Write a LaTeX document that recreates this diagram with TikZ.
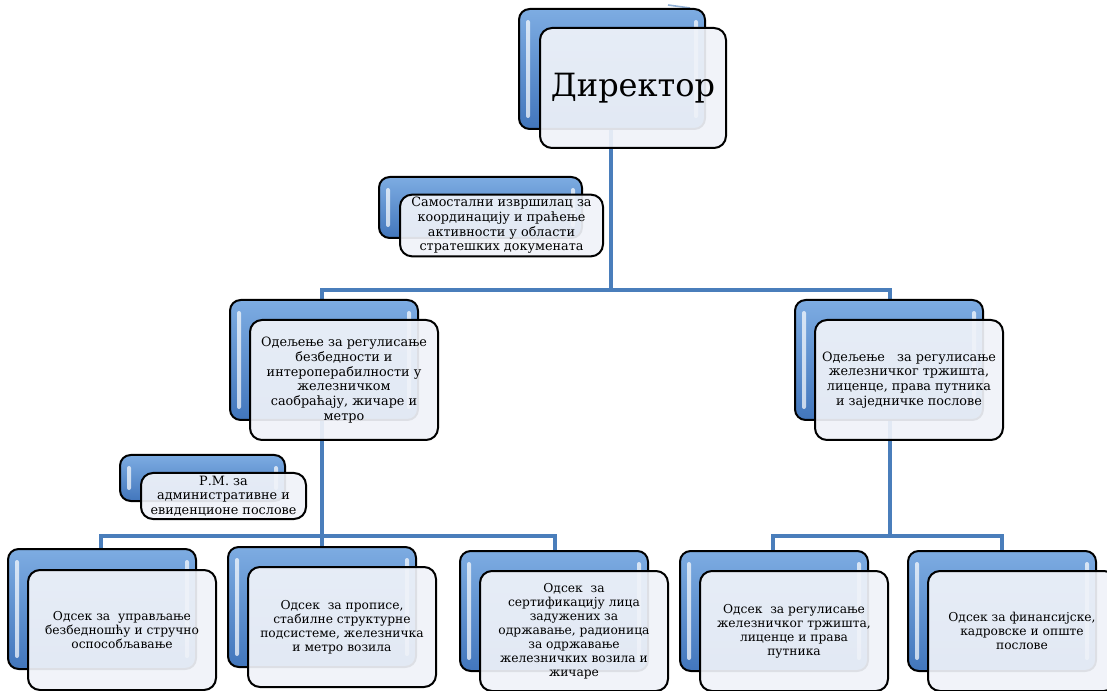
\documentclass[tikz,border=0pt]{standalone}
\usepackage{fontspec}
\setmainfont{DejaVu Serif}
\usetikzlibrary{calc,backgrounds}
\definecolor{connblue}{RGB}{74,126,187}
\definecolor{boxtop}{RGB}{125,172,226}
\definecolor{boxmid}{RGB}{88,145,212}
\definecolor{boxbot}{RGB}{66,118,188}
\definecolor{frontfill}{RGB}{240,243,249}
\tikzset{
  conn/.style={draw=connblue, line width=2.6pt},
  backbox/.style={rectangle, rounded corners=8pt, draw=black, line width=1.5pt,
    top color=boxtop, middle color=boxmid, bottom color=boxbot, inner sep=0pt},
  frontbox/.style={rectangle, rounded corners=9pt, draw=black, line width=1.5pt,
    fill=frontfill, fill opacity=0.92, text opacity=1, inner sep=2pt, align=center},
  gloss/.style={fill=white, fill opacity=0.7, draw=none, rounded corners=1.5pt},
  bigtxt/.style={font=\fontsize{24}{28}\selectfont},
  midtxt/.style={font=\fontsize{9.6}{11}\selectfont},
  bottxt/.style={font=\fontsize{9.2}{10.5}\selectfont},
}
\newcommand\orgbox[9]{%
  \node[backbox, minimum width=#4*0.75pt, minimum height=#5*0.75pt] (#1B) at ($(#2,#3)+(#6,#7)$) {};
  \fill[gloss] ($(#1B.north west)+(8,12)$) rectangle ($(#1B.south west)+(12,-12)$);
  \fill[gloss] ($(#1B.north east)+(-12,12)$) rectangle ($(#1B.south east)+(-8,-12)$);
  \node[frontbox, #8, minimum width=#4*0.75pt, minimum height=#5*0.75pt] (#1) at (#2,#3) {#9};
}
\begin{document}
\begin{tikzpicture}[x=0.75pt,y=-0.75pt]
\useasboundingbox (0,0) rectangle (1107,691);
\clip (0,0) rectangle (1107,691);
\coordinate (j0) at (611,290);
\coordinate (jL) at (322,290);
\coordinate (jR) at (890,290);
\coordinate (kL) at (322,536);
\coordinate (kL1) at (101,536);
\coordinate (kL3) at (555,536);
\coordinate (kR) at (890,536);
\coordinate (kR1) at (773,536);
\coordinate (kR2) at (1002,536);
\coordinate (artA) at (668,5);
\coordinate (artB) at (690,8);
% boxes
\orgbox{dir}{633}{88}{186}{120}{-21}{-19}{bigtxt}{Директор}
\orgbox{sam}{501.5}{225.5}{203}{61}{-21}{-18}{midtxt}{Самостални извршилац за\\координацију и праћење\\активности у области\\стратешких докумената}
\orgbox{deptL}{344}{380}{188}{120}{-20}{-20}{midtxt}{Одељење за регулисање\\безбедности и\\интероперабилности у\\железничком\\саобраћају, жичаре и\\метро}
\orgbox{deptR}{909}{380}{188}{120}{-20}{-20}{midtxt}{Одељење\ \ \ за регулисање\\железничког тржишта,\\лиценце, права путника\\и заједничке послове}
\orgbox{pm}{223.5}{496}{165}{46}{-21}{-18}{midtxt}{Р.М. за\\административне и\\евиденционе послове}
\orgbox{b1}{122}{630}{188}{120}{-20}{-21}{bottxt}{Одсек за\ \ управљање\\безбедношћу и стручно\\оспособљавање}
\orgbox{b2}{342}{627}{188}{120}{-20}{-20}{bottxt}{Одсек\ \ за прописе,\\стабилне структурне\\подсистеме, железничка\\и метро возила}
\orgbox{b3}{574}{631}{188}{120}{-20}{-20}{bottxt}{Одсек\ \ за\\сертификацију лица\\задужених за\\одржавање, радионица\\за одржавање\\железничких возила и\\жичаре}
\orgbox{b4}{794}{631}{188}{120}{-20}{-20}{bottxt}{Одсек\ \ за регулисање\\железничког тржишта,\\лиценце и права\\путника}
\orgbox{b5}{1022}{631}{188}{120}{-20}{-20}{bottxt}{Одсек за финансијске,\\кадровске и опште\\послове}
% connectors behind the boxes
\begin{scope}[on background layer]
\fill[white] (0,0) rectangle (1107,691);
\draw[conn, line width=1.2pt, opacity=0.6] (artA) -- (artB);
\draw[conn] (dirB.south -| j0) -- (j0);
\draw[conn] (jL |- deptLB.north) -- (jL) -- (jR) -- (jR |- deptRB.north);
\draw[conn] (deptLB.south -| kL) -- (kL) -- (kL |- b2B.north);
\draw[conn] (kL1 |- b1B.north) -- (kL1) -- (kL3) -- (kL3 |- b3B.north);
\draw[conn] (deptRB.south -| kR) -- (kR);
\draw[conn] (kR1 |- b4B.north) -- (kR1) -- (kR2) -- (kR2 |- b5B.north);
\end{scope}
\end{tikzpicture}
\end{document}
